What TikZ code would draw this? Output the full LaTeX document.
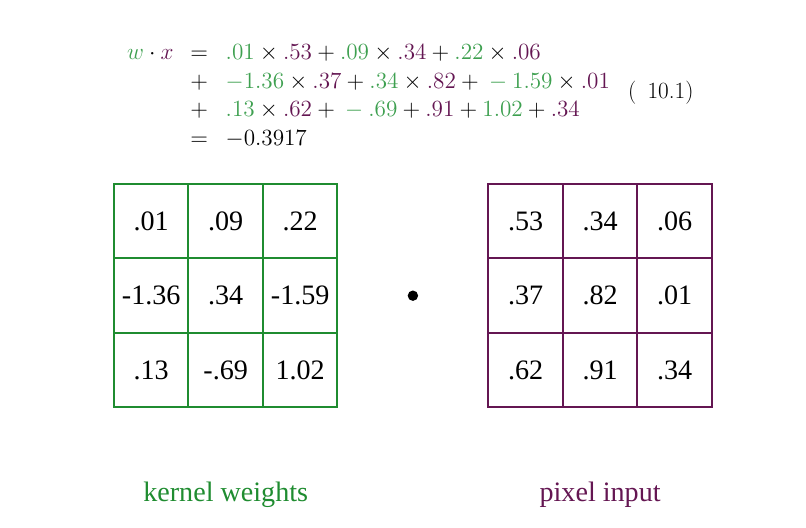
\RequirePackage{fix-cm}
\documentclass[tikz,border=0pt]{standalone}
\usepackage{fontspec}
\usepackage{xcolor}
\usepackage{tikz}
\usetikzlibrary{positioning,calc}

\newfontfamily\cellfont{Liberation Serif}
\definecolor{kgreen}{RGB}{31,140,48}
\definecolor{eqgreen}{RGB}{62,160,80}
\definecolor{pxpurple}{RGB}{100,22,82}
\newcommand{\kwt}[1]{{\color{eqgreen}#1}}
\newcommand{\pin}[1]{{\color{pxpurple}#1}}

\begin{document}
\begin{tikzpicture}[
  cell/.style={draw, line width=1.4pt, minimum size=1.8625cm, inner sep=0pt, outer sep=0pt, font=\cellfont\fontsize{20}{24}\selectfont},
  kcell/.style={cell, draw=kgreen},
  pcell/.style={cell, draw=pxpurple},
  lab/.style={font=\cellfont\fontsize{20}{24}\selectfont},
  eq/.style={inner sep=0pt, font=\fontsize{16.5}{20.3}\selectfont}
]
\useasboundingbox (0,0) rectangle (20.15,13.2);

% the sum
\node[eq, anchor=west] (eqn) at (3.17,10.78) {$\begin{array}{@{}r@{\hspace{12pt}}c@{\hspace{12.5pt}}l@{}}
  \kwt{w}\cdot\pin{x} & = & \kwt{.01}\times\pin{.53}+\kwt{.09}\times\pin{.34}+\kwt{.22}\times\pin{.06}\\
   & + & \kwt{-1.36}\times\pin{.37}+\kwt{.34}\times\pin{.82}+\kwt{{}-1.59}\times\pin{.01}\\
   & + & \kwt{.13}\times\pin{.62}+\kwt{{}-.69}+\pin{.91}+\kwt{1.02}+\pin{.34}\\
   & = & -0.3917
\end{array}$};
\node[eq, right=0.44cm of eqn, yshift=0.1cm] (tag) {(\hspace{8pt}10.1)};

% kernel weights
\node[kcell] (k11) at (3.78,7.67) {.01};
\node[kcell, right=0pt of k11] (k12) {.09};
\node[kcell, right=0pt of k12] (k13) {.22};
\node[kcell, below=0pt of k11] (k21) {-1.36};
\node[kcell, right=0pt of k21] (k22) {.34};
\node[kcell, right=0pt of k22] (k23) {-1.59};
\node[kcell, below=0pt of k21] (k31) {.13};
\node[kcell, right=0pt of k31] (k32) {-.69};
\node[kcell, right=0pt of k32] (k33) {1.02};

% pixel input
\node[pcell] (p11) at (13.14,7.67) {.53};
\node[pcell, right=0pt of p11] (p12) {.34};
\node[pcell, right=0pt of p12] (p13) {.06};
\node[pcell, below=0pt of p11] (p21) {.37};
\node[pcell, right=0pt of p21] (p22) {.82};
\node[pcell, right=0pt of p22] (p23) {.01};
\node[pcell, below=0pt of p21] (p31) {.62};
\node[pcell, right=0pt of p31] (p32) {.91};
\node[pcell, right=0pt of p32] (p33) {.34};

\node[circle, fill, inner sep=0pt, minimum size=0.26cm] (dot) at ($(k22)!0.5!(p22)$) {};

\node[lab, text=kgreen, below=1.75cm of k32] (klab) {kernel weights};
\node[lab, text=pxpurple, below=1.75cm of p32] (plab) {pixel input};
\end{tikzpicture}
\end{document}
